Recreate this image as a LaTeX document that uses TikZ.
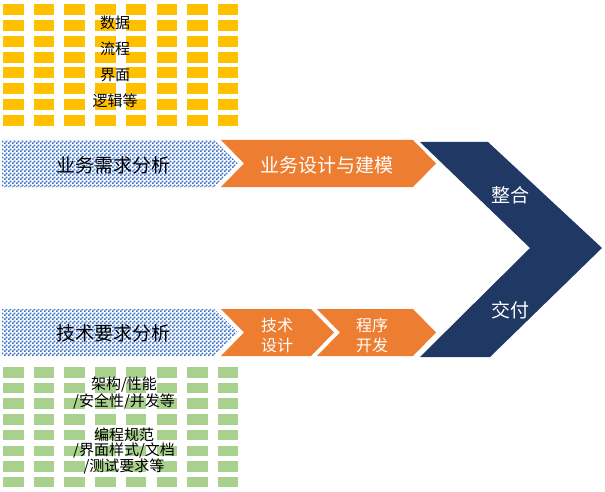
\documentclass[tikz,border=0pt]{standalone}
\usepackage{fontspec}
\newfontfamily\cjk{Noto Sans CJK SC}
\usetikzlibrary{patterns}
\definecolor{pfyellow}{HTML}{FFC000}
\definecolor{pfgreen}{HTML}{A9D18E}
\definecolor{pforange}{HTML}{ED7D31}
\definecolor{pfnavy}{HTML}{1F3864}
\definecolor{pfblue}{HTML}{3A72C8}

% fine checker, 2pt squares
\pgfdeclarepatternformonly{finechecker}{\pgfpointorigin}{\pgfqpoint{4pt}{4pt}}{\pgfqpoint{4pt}{4pt}}{
  \pgfpathrectangle{\pgfpointorigin}{\pgfqpoint{2.05pt}{2.05pt}}
  \pgfpathrectangle{\pgfqpoint{2pt}{2pt}}{\pgfqpoint{2.05pt}{2.05pt}}
  \pgfusepath{fill}
}

\begin{document}
\begin{tikzpicture}[x=1pt, y=-1pt,
  ycell/.style={fill=pfyellow},
  gcell/.style={fill=pfgreen},
  reqarr/.style={fill=pfblue!22, pattern=finechecker, pattern color=pfblue},
  chev/.style={fill=pforange},
  bigchev/.style={fill=pfnavy},
  gridtxt/.style={font=\cjk\fontsize{15}{26}\selectfont, text=black, align=center, inner sep=0pt},
  reqtxt/.style={font=\cjk\fontsize{19}{22}\selectfont, text=black, inner sep=0pt},
  chevtxt/.style={font=\cjk\fontsize{19}{22}\selectfont, text=white, align=center, inner sep=0pt},
  smalltxt/.style={font=\cjk\fontsize{16}{20}\selectfont, text=white, align=center, inner sep=0pt},
]
\useasboundingbox (0,0) rectangle (605,492);

% Cell grids (top: yellow, bottom: green)
\foreach \i in {0,...,7}
  \foreach \j in {0,...,7} {
    \fill[ycell] ({3+\i*30.7},{4+\j*15.86}) rectangle ++(20.5,11);
    \fill[gcell] ({3+\i*30.7},{367+\j*15.7}) rectangle ++(20.5,10.5);
  }

% Upper flow
\fill[reqarr] (2,140) -- (214,140) -- (238,163.5) -- (214,187) -- (2,187) -- cycle;
\fill[chev] (221,140) -- (413,140) -- (436,163.5) -- (413,187) -- (221,187) -- (244,163.5) -- cycle;

% Lower flow
\fill[reqarr] (2,309) -- (214,309) -- (238,332.5) -- (214,356) -- (2,356) -- cycle;
\fill[chev] (221,309) -- (311,309) -- (334,332.5) -- (311,356) -- (221,356) -- (244,332.5) -- cycle;
\fill[chev] (317,309) -- (413,309) -- (436,332.5) -- (413,356) -- (317,356) -- (340,332.5) -- cycle;

% Merge chevron
\fill[bigchev] (420,142) -- (488,142) -- (602,248) -- (490,357) -- (420,357) -- (530,248) -- cycle;

% Labels
\node[gridtxt] (bizitems) at (115,61.5) {数据\\流程\\界面\\逻辑等};
\node[gridtxt, font=\cjk\fontsize{15}{17}\selectfont] (techitems) at (124,393.5) {架构/性能\\/安全性/并发等};
\node[gridtxt, font=\cjk\fontsize{15}{15}\selectfont] (codeitems) at (124,451) {编程规范\\/界面样式/文档\\/测试要求等};

\node[reqtxt] (bizreq) at (113,165) {业务需求分析};
\node[chevtxt] (bizdesign) at (327,165) {业务设计与建模};
\node[reqtxt] (techreq) at (113,333) {技术要求分析};
\node[smalltxt] (techdesign) at (277,335) {技术\\设计};
\node[smalltxt] (progdev) at (372,335) {程序\\开发};
\node[chevtxt] (merge) at (510,195) {整合};
\node[chevtxt] (deliver) at (510,310) {交付};

\end{tikzpicture}
\end{document}
